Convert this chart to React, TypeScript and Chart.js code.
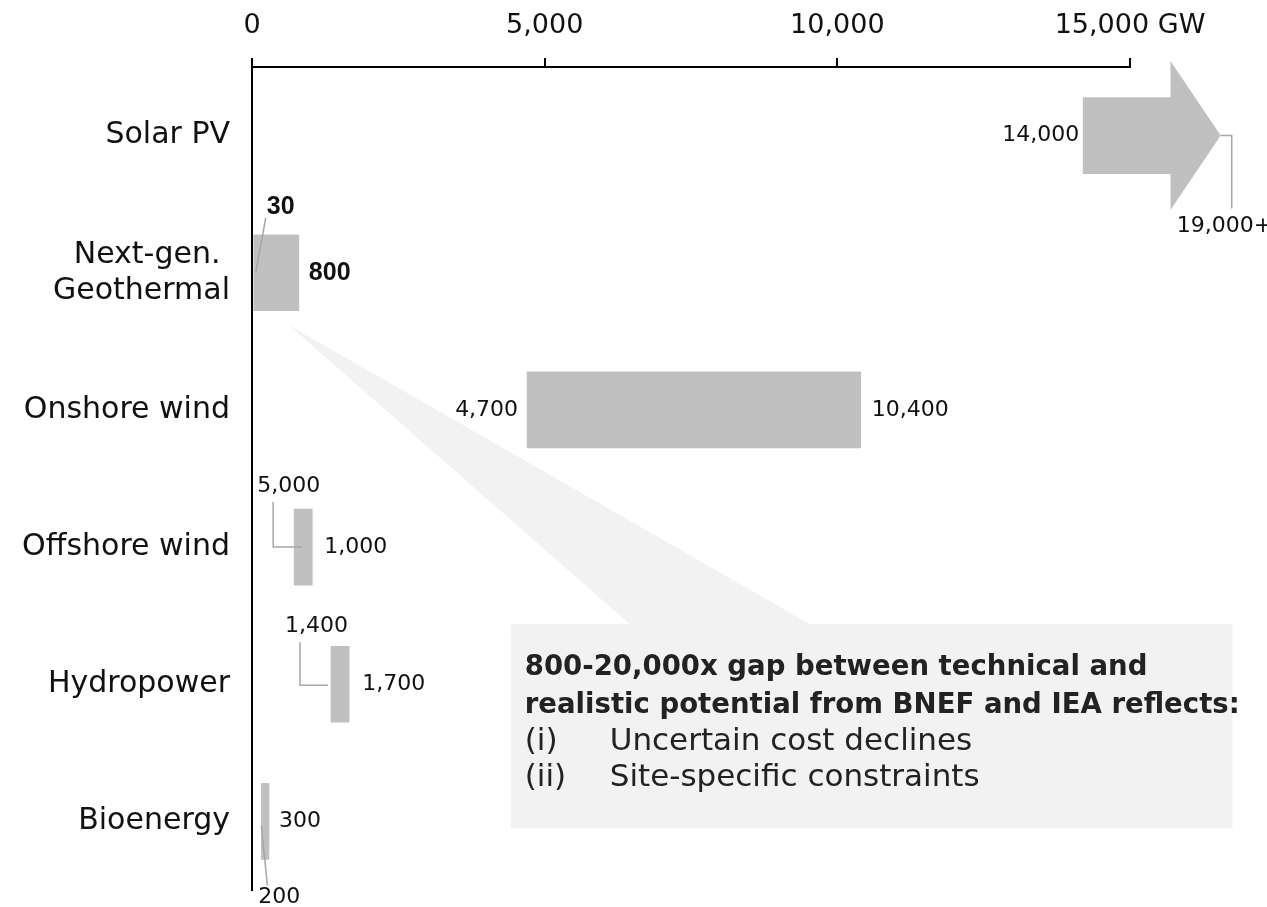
import React, { useEffect, useRef } from "react";
import { Chart, registerables } from "chart.js";

Chart.register(...registerables);

const FONT = '"DejaVu Sans", sans-serif';

// ---- data ----
const categories: (string | string[])[] = [
  "Solar PV",
  ["Next-gen. ", "Geothermal"],
  "Onshore wind",
  "Offshore wind",
  "Hydropower",
  "Bioenergy",
];
// bar start / end as drawn (GW)
const lowValues = [14200, 30, 4700, 720, 1350, 160];
const highValues = [15700, 800, 10400, 1030, 1660, 290];
// solar arrow tip (GW, beyond the axis)
const arrowTipValue = 16550;
const lowLabels = ["14,000", "30", "4,700", "5,000", "1,400", "200"];
const highLabels = ["19,000+", "800", "10,400", "1,000", "1,700", "300"];
const xTickValues = [0, 5000, 10000, 15000];
const xTickLabels = ["0", "5,000", "10,000", "15,000 GW"];
const calloutTitle = [
  "800-20,000x gap between technical and",
  "realistic potential from BNEF and IEA reflects:",
];
const calloutItems = [
  ["(i)", "Uncertain cost declines"],
  ["(ii)", "Site-specific constraints"],
];

const overlay = {
  id: "overlay",
  beforeDatasetsDraw(chart: any) {
    const ctx = chart.ctx as CanvasRenderingContext2D;
    const xs = chart.scales.x;
    const ys = chart.scales.y;
    const P = (v: number) => xs.getPixelForValue(v);
    const cy = (i: number) => ys.getPixelForValue(i);
    const boxTop = cy(4) - 60;
    const boxBottom = cy(5) + 7;
    const boxLeft = P(4420);
    const boxRight = P(16750);
    ctx.save();
    ctx.fillStyle = "#f2f2f2";
    ctx.beginPath();
    ctx.moveTo(P(620), cy(1) + 52);
    ctx.lineTo(P(9566), boxTop + 1);
    ctx.lineTo(P(6475), boxTop + 1);
    ctx.closePath();
    ctx.fill();
    ctx.fillRect(boxLeft, boxTop, boxRight - boxLeft, boxBottom - boxTop);

    // callout text
    ctx.fillStyle = "#222";
    ctx.textBaseline = "middle";
    ctx.textAlign = "left";
    const tx = boxLeft + 14;
    ctx.font = `bold 29px ${FONT}`;
    const w2 = ctx.measureText(calloutTitle[1]).width;
    const sx = Math.min(1, 715 / w2);
    const titleYs = [cy(4) - 17, cy(4) + 21];
    calloutTitle.forEach((t, k) => {
      ctx.save();
      ctx.translate(tx, titleYs[k]);
      ctx.scale(sx, 1);
      ctx.fillText(t, 0, 0);
      ctx.restore();
    });
    ctx.font = `31px ${FONT}`;
    const itemYs = [cy(4) + 58, cy(4) + 94];
    calloutItems.forEach((it, k) => {
      ctx.fillText(it[0], tx, itemYs[k]);
      ctx.fillText(it[1], boxLeft + 99, itemYs[k]);
    });
    ctx.restore();
  },
  afterDatasetsDraw(chart: any) {
    const ctx = chart.ctx as CanvasRenderingContext2D;
    const xs = chart.scales.x;
    const ys = chart.scales.y;
    const P = (v: number) => xs.getPixelForValue(v);
    const cy = (i: number) => ys.getPixelForValue(i);
    ctx.save();

    // Solar arrow head
    {
      const c = cy(0);
      const base = P(highValues[0]);
      const tip = P(arrowTipValue);
      ctx.fillStyle = "#c0c0c0";
      ctx.beginPath();
      ctx.moveTo(base - 0.5, c - 74.5);
      ctx.lineTo(tip, c);
      ctx.lineTo(base - 0.5, c + 74.5);
      ctx.closePath();
      ctx.fill();
    }

    const text = (s: string, x: number, y: number, align: CanvasTextAlign, bold = false) => {
      ctx.font = bold ? `bold 25px "Liberation Sans", Arial, sans-serif` : `22px ${FONT}`;
      ctx.fillStyle = "#111";
      ctx.textAlign = align;
      ctx.textBaseline = "middle";
      ctx.fillText(s, x, y);
    };
    const leader = (pts: number[][]) => {
      ctx.strokeStyle = "#a6a6a6";
      ctx.lineWidth = 1.5;
      ctx.beginPath();
      pts.forEach((p, k) => (k === 0 ? ctx.moveTo(p[0], p[1]) : ctx.lineTo(p[0], p[1])));
      ctx.stroke();
    };

    // Solar PV
    {
      const c = cy(0);
      const lo = P(lowValues[0]);
      const tip = P(arrowTipValue);
      text(lowLabels[0], lo - 4, c, "right");
      leader([[tip, c], [tip + 11, c], [tip + 11, c + 73]]);
      text(highLabels[0], tip - 44, c + 91, "left");
    }
    // Geothermal
    {
      const c = cy(1);
      const lo = P(lowValues[1]);
      const hi = P(highValues[1]);
      leader([[lo + 12, c - 55], [lo + 2, c]]);
      text(lowLabels[1], lo + 13, c - 66, "left", true);
      text(highLabels[1], hi + 10, c, "left", true);
    }
    // Onshore wind
    {
      const c = cy(2);
      text(lowLabels[2], P(lowValues[2]) - 9, c, "right");
      text(highLabels[2], P(highValues[2]) + 11, c, "left");
    }
    // Offshore wind
    {
      const c = cy(3);
      const lo = P(lowValues[3]);
      const hi = P(highValues[3]);
      text(lowLabels[3], lo - 37, c - 61, "left");
      leader([[lo - 21, c - 45], [lo - 21, c], [lo + 8, c]]);
      text(highLabels[3], hi + 12, c, "left");
    }
    // Hydropower
    {
      const c = cy(4);
      const lo = P(lowValues[4]);
      const hi = P(highValues[4]);
      text(lowLabels[4], lo - 46, c - 58, "left");
      leader([[lo - 31, c - 42], [lo - 31, c + 1], [lo - 3, c + 1]]);
      text(highLabels[4], hi + 13, c, "left");
    }
    // Bioenergy
    {
      const c = cy(5);
      const lo = P(lowValues[5]);
      const hi = P(highValues[5]);
      text(highLabels[5], hi + 10, c, "left");
      leader([[lo + 6, c + 64], [lo, c + 4]]);
      text(lowLabels[5], lo - 3, c + 76, "left");
    }
    ctx.restore();
  },
};

export default function App() {
  const ref = useRef<HTMLCanvasElement>(null);
  useEffect(() => {
    const canvas = ref.current!;
    const chart = new Chart(canvas, {
      type: "bar",
      data: {
        labels: categories as any,
        datasets: [
          {
            data: categories.map((_, i) => [lowValues[i], highValues[i]]) as any,
            backgroundColor: "#c0c0c0",
            borderWidth: 0,
            barThickness: 76,
            clip: false,
          } as any,
        ],
      },
      options: {
        indexAxis: "y",
        responsive: false,
        animation: false,
        layout: { padding: { left: 0, top: 0, right: 137, bottom: 17 } },
        plugins: { legend: { display: false }, tooltip: { enabled: false } },
        scales: {
          x: {
            type: "linear",
            position: "top",
            min: 0,
            max: 15000,
            afterFit: (s: any) => {
              s.height = 67;
              s.paddingLeft = 0;
              s.paddingRight = 0;
            },
            afterBuildTicks: (s: any) => {
              s.ticks = xTickValues.map((v) => ({ value: v }));
            },
            ticks: {
              callback: (v: any) => xTickLabels[xTickValues.indexOf(Number(v))] ?? "",
              font: { family: FONT, size: 27 },
              color: "#111",
              padding: 16,
              maxRotation: 0,
              autoSkip: false,
            },
            grid: { drawOnChartArea: false, drawTicks: true, tickLength: 9, color: "#000", lineWidth: 2 },
            border: { display: true, color: "#000", width: 2 },
          },
          y: {
            type: "category",
            afterFit: (s: any) => {
              s.width = 252;
              s.paddingTop = 0;
              s.paddingBottom = 0;
            },
            ticks: {
              font: { family: FONT, size: 30, lineHeight: 1.2 },
              color: "#111",
              padding: 22,
              autoSkip: false,
            },
            grid: { display: false, drawTicks: false },
            border: { display: true, color: "#000", width: 2 },
          },
        },
      } as any,
      plugins: [overlay],
    });
    return () => chart.destroy();
  }, []);
  return (
    <div style={{ position: "absolute", left: 0, top: 0, width: 1267, height: 907, background: "#fff" }}>
      <canvas ref={ref} width={1267} height={907} style={{ display: "block" }} />
    </div>
  );
}
